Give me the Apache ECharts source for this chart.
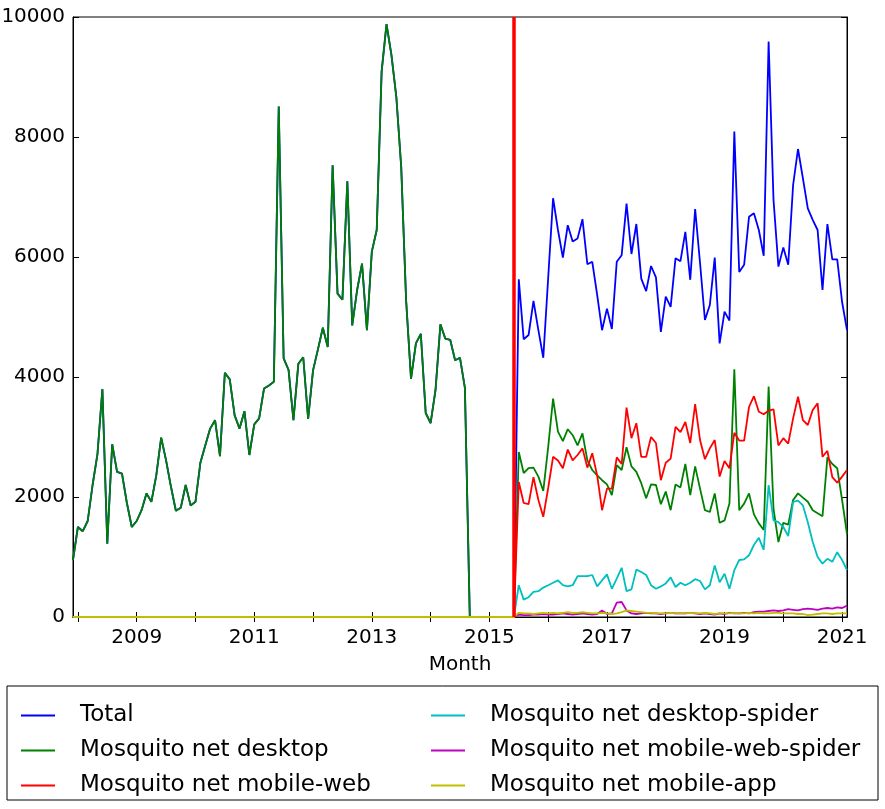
<!DOCTYPE html>
<html>
<head>
<meta charset="utf-8">
<script src="https://cdn.jsdelivr.net/npm/echarts@6/dist/echarts.min.js"></script>
<style>
  html, body { margin: 0; padding: 0; background: #fff; }
  #main { width: 885px; height: 809px; }
</style>
</head>
<body>
<div id="main"></div>
<script>
// monthly categories, 2007-12 .. 2021-02
var months = [];
for (var y = 2007; y <= 2021; y++) {
  for (var m = 1; m <= 12; m++) {
    if ((y === 2007 && m < 12) || (y === 2021 && m > 2)) continue;
    months.push(y + '-' + (m < 10 ? '0' + m : '' + m));
  }
}
var yearLabels = ['2009', '2011', '2013', '2015', '2017', '2019', '2021'];
var cutMonth = '2015-06';

// legacy counts 2007-12 .. 2014-08 (total == desktop)
var desktopEarly = [950,1500,1430,1600,2200,2720,3800,1220,2880,2420,
  2390,1900,1500,1600,1780,2060,1920,2360,2990,2610,
  2170,1770,1820,2200,1860,1920,2570,2860,3140,3280,
  2680,4070,3960,3360,3140,3430,2700,3210,3310,3810,
  3860,3920,8510,4310,4120,3280,4220,4330,3300,4110,
  4460,4820,4500,7530,5390,5290,7260,4860,5450,5890,
  4780,6090,6450,9090,9880,9370,8670,7500,5280,3970,
  4560,4720,3400,3230,3780,4880,4640,4620,4280,4320,
  3820];
// 2014-09 .. 2015-06
var gapMonths = [0,0,0,0,0,0,0,0,0,0];
// 2007-12 .. 2015-06 for the split series
var noSplitData = [0,0,0,0,0,0,0,0,0,0, 0,0,0,0,0,0,0,0,0,0, 0,0,0,0,0,0,0,0,0,0,
  0,0,0,0,0,0,0,0,0,0, 0,0,0,0,0,0,0,0,0,0, 0,0,0,0,0,0,0,0,0,0,
  0,0,0,0,0,0,0,0,0,0, 0,0,0,0,0,0,0,0,0,0, 0,0,0,0,0,0,0,0,0,0, 0];

// 2015-07 .. 2021-02
var totalLate = [5630,4630,4700,5270,4780,4320,5650,6980,6450,5990,
  6530,6260,6310,6630,5880,5920,5370,4780,5140,4800,
  5920,6030,6890,6050,6550,5640,5430,5850,5660,4750,
  5340,5170,5980,5930,6420,5620,6800,5900,4950,5200,
  5990,4560,5090,4940,8090,5750,5870,6670,6730,6450,
  6020,9590,6950,5840,6160,5870,7200,7800,7310,6810,
  6620,6450,5450,6550,5960,5960,5250,4780];
var desktopLate = [2750,2400,2480,2490,2340,2100,2830,3640,3090,2930,
  3130,3030,2860,3060,2610,2450,2360,2280,2210,2030,
  2530,2450,2830,2510,2420,2230,1980,2210,2200,1880,
  2090,1780,2210,2160,2550,2030,2510,2140,1780,1750,
  2060,1570,1610,1890,4130,1780,1890,2060,1710,1560,
  1450,3840,1800,1250,1570,1540,1950,2060,1990,1920,
  1780,1730,1680,2660,2550,2480,1950,1380];
var mobileWebLate = [2250,1900,1880,2330,1950,1670,2150,2670,2610,2480,
  2790,2610,2700,2810,2490,2730,2360,1780,2140,2140,
  2660,2550,3490,2980,3230,2670,2670,3000,2900,2280,
  2570,2640,3170,3080,3250,2900,3550,2950,2630,2810,
  2950,2340,2600,2480,3070,2940,2940,3500,3680,3420,
  3380,3440,3460,2860,2980,2890,3310,3670,3280,3200,
  3450,3560,2670,2770,2330,2240,2340,2450];
var desktopSpiderLate = [530,290,330,420,430,490,530,570,610,530,
  510,530,680,680,680,700,510,610,710,470,
  640,820,430,460,790,750,700,530,470,510,
  560,660,500,570,530,570,630,600,460,530,
  860,580,720,470,780,950,960,1030,1200,1320,
  1120,2200,1610,1580,1500,1350,1920,1940,1860,1580,
  1250,1000,890,970,920,1080,950,780];
var mobileWebSpiderLate = [40,30,30,40,40,50,40,40,50,60,50,40,50,60,50,40,
  50,110,50,60,240,250,110,60,50,60,70,60,60,50,60,70,60,60,
  60,70,60,50,60,50,40,60,50,70,60,60,70,60,80,90,
  90,100,110,100,110,130,120,110,130,140,130,120,140,150,140,160,150,190];
var mobileAppLate = [70,60,60,50,60,70,60,70,60,70,80,70,70,80,70,60,60,70,60,50,
  60,80,110,100,90,80,70,70,60,60,60,70,60,60,
  60,70,60,60,70,60,50,60,60,60,70,60,60,70,60,70,60,60,70,70,
  60,60,60,50,50,30,40,50,60,60,50,60,60,60];

var FONT = 'DejaVu Sans';

function line(name, color, data) {
  return {
    name: name, type: 'line', data: data, symbol: 'none',
    lineStyle: { color: color, width: 1.8 }, itemStyle: { color: color },
    animation: false
  };
}

var series = [
  line('Total', '#0000ff', desktopEarly.concat(gapMonths, totalLate)),
  line('Mosquito net desktop', '#008000', desktopEarly.concat(gapMonths, desktopLate)),
  line('Mosquito net mobile-web', '#ff0000', noSplitData.concat(mobileWebLate)),
  line('Mosquito net desktop-spider', '#00bfbf', noSplitData.concat(desktopSpiderLate)),
  line('Mosquito net mobile-web-spider', '#bf00bf', noSplitData.concat(mobileWebSpiderLate)),
  line('Mosquito net mobile-app', '#bfbf00', noSplitData.concat(mobileAppLate))
];
series[5].markLine = {
  silent: true, symbol: 'none', animation: false,
  label: { show: false },
  lineStyle: { color: '#ff0000', width: 3.5, type: 'solid' },
  data: [{ xAxis: cutMonth }]
};

var isJan = function (i, v) { return v.slice(5) === '01'; };
var isLabel = function (i, v) { return v.slice(5) === '01' && yearLabels.indexOf(v.slice(0, 4)) >= 0; };

var legendText = { fontFamily: FONT, fontSize: 23, color: '#000', lineHeight: 27, padding: [0, 0, 0, 20] };

echarts.init(document.getElementById('main')).setOption({
  backgroundColor: '#fff',
  animation: false,
  grid: { left: 73, right: 38, top: 17, bottom: 192, show: true, borderColor: '#000', borderWidth: 1,
    containLabel: false, outerBoundsMode: 'none' },
  xAxis: [{
    type: 'category', data: months, boundaryGap: false,
    name: 'Month', nameLocation: 'middle', nameGap: 38,
    nameTextStyle: { fontFamily: FONT, fontSize: 20, color: '#000' },
    axisLine: { lineStyle: { color: '#000' } },
    axisTick: { inside: true, length: 5, interval: isJan, lineStyle: { color: '#000' } },
    axisLabel: { interval: isLabel, formatter: function (v) { return v.slice(0, 4); },
      fontFamily: FONT, fontSize: 20, color: '#000', margin: 11 },
    splitLine: { show: false }
  }, {
    type: 'category', data: months, boundaryGap: false, position: 'top',
    axisLine: { lineStyle: { color: '#000' } },
    axisTick: { inside: true, length: 5, interval: isJan, lineStyle: { color: '#000' } },
    axisLabel: { show: false }, splitLine: { show: false }
  }],
  yAxis: [{
    type: 'value', min: 0, max: 10000, interval: 2000,
    axisLine: { show: true, lineStyle: { color: '#000' } },
    axisTick: { show: true, inside: true, length: 6, lineStyle: { color: '#000' } },
    axisLabel: { fontFamily: FONT, fontSize: 20, color: '#000', margin: 8,
      formatter: function (v) { return String(v); } },
    splitLine: { show: false }
  }, {
    type: 'value', min: 0, max: 10000, interval: 2000, position: 'right',
    axisLine: { show: true, lineStyle: { color: '#000' } },
    axisTick: { show: true, inside: true, length: 6, lineStyle: { color: '#000' } },
    axisLabel: { show: false }, splitLine: { show: false }
  }],
  legend: [{
    data: ['Total', 'Mosquito net desktop', 'Mosquito net mobile-web'],
    orient: 'vertical', left: 21, top: 702, padding: 0, itemGap: 8,
    icon: 'rect', itemWidth: 34, itemHeight: 2, selectedMode: false, textStyle: legendText
  }, {
    data: ['Mosquito net desktop-spider', 'Mosquito net mobile-web-spider', 'Mosquito net mobile-app'],
    orient: 'vertical', left: 431, top: 702, padding: 0, itemGap: 8,
    icon: 'rect', itemWidth: 34, itemHeight: 2, selectedMode: false, textStyle: legendText
  }],
  graphic: [{
    type: 'rect', silent: true,
    shape: { x: 7, y: 686, width: 871, height: 114 },
    style: { fill: null, stroke: '#000', lineWidth: 1 }
  }],
  series: series
});
</script>
</body>
</html>
